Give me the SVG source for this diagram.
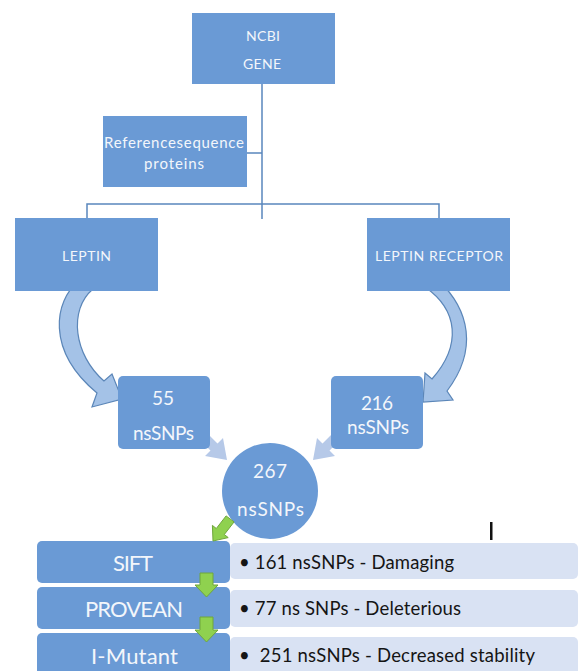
<svg xmlns="http://www.w3.org/2000/svg" width="581" height="671" viewBox="0 0 581 671">
<defs>
<style>
.box{fill:#6a9ad5;}
.rbox{fill:#6a9ad5;}
.det{fill:#d9e2f3;}
.wt{fill:#f3f6fb;font-family:Lato,"Liberation Sans",sans-serif;text-anchor:middle;dominant-baseline:central;}
.dt{fill:#151515;font-family:Lato,"Liberation Sans",sans-serif;dominant-baseline:central;font-size:18.5px;}
.ln{stroke:#5a87bd;stroke-width:1.5;fill:none;}
.curve{fill:#a4c2e7;stroke:#5b86b8;stroke-width:1.2;}
.chev{fill:#b6c9e8;}
.grn{fill:#8fd14f;stroke:#6fa63c;stroke-width:1;}
</style>
</defs>
<rect width="581" height="671" fill="#ffffff"/>
<g id="connectors">
<path class="ln" d="M262,84 V219 M247,153 H262 M87,218 V204 H439 V218"/>
<path class="curve" d="M78,282 C55,300 45,350 97,393 L92,407 L122,399 L112,374 L104,381 C74,355 68,310 93,289 Z"/>
<path class="curve" d="M438,280 C470,310 478,350 447,391 L453,400 L423,402 L425,373 L432,379 C462,345 458,310 425,287 Z"/>
<polygon class="chev" points="203.5,429.5 217.5,443.5 223,438 227,460 205,456 210.5,450.5 196.5,436.5"/>
<polygon class="chev" points="336.5,429.5 322.5,443.5 317,438 313,460 335,456 329.5,450.5 343.5,436.5"/>
</g>
<g id="ncbi">
<rect class="box" x="192" y="13" width="143" height="71"/>
<text class="wt" x="263" y="35" font-size="14" textLength="34">NCBI</text>
<text class="wt" x="262" y="63" font-size="14" textLength="38">GENE</text>
</g>
<g id="refseq">
<rect class="box" x="103" y="116" width="144" height="71"/>
<text class="wt" x="174" y="142" font-size="15" textLength="140">Referencesequence</text>
<text class="wt" x="174" y="163" font-size="15" textLength="60">proteins</text>
</g>
<g id="leptin">
<rect class="box" x="15" y="218" width="143" height="73"/>
<text class="wt" x="86.5" y="255" font-size="14" textLength="49">LEPTIN</text>
</g>
<g id="leptin-receptor">
<rect class="box" x="367" y="218" width="143" height="73"/>
<text class="wt" x="439" y="255" font-size="14" textLength="128">LEPTIN RECEPTOR</text>
</g>
<g id="n55">
<rect class="rbox" x="118" y="376" width="92" height="73" rx="5"/>
<text class="wt" x="163" y="397" font-size="19" textLength="22">55</text>
<text class="wt" x="163.5" y="432" font-size="19" textLength="61">nsSNPs</text>
</g>
<g id="n216">
<rect class="rbox" x="331" y="376" width="92" height="73" rx="5"/>
<text class="wt" x="377" y="402" font-size="19" textLength="32">216</text>
<text class="wt" x="378" y="426" font-size="19" textLength="62">nsSNPs</text>
</g>
<g id="n267">
<circle class="box" cx="270" cy="491" r="48"/>
<text class="wt" x="270" y="470" font-size="19" textLength="34">267</text>
<text class="wt" x="270.5" y="508" font-size="19" textLength="67">nsSNPs</text>
</g>
<g id="sift">
<rect class="rbox" x="37" y="541" width="193" height="42" rx="5"/>
<text class="wt" x="133" y="562" font-size="22" textLength="40">SIFT</text>
</g>
<g id="sift-result">
<rect class="det" x="230" y="543" width="348" height="36" rx="5"/>
<text class="dt" x="239" y="562" textLength="215">• 161 nsSNPs - Damaging</text>
</g>
<g id="provean">
<rect class="rbox" x="37" y="587" width="193" height="42" rx="5"/>
<text class="wt" x="134" y="608" font-size="22" textLength="98">PROVEAN</text>
</g>
<g id="provean-result">
<rect class="det" x="230" y="590" width="348" height="37" rx="5"/>
<text class="dt" x="239" y="608" textLength="222">• 77 ns SNPs - Deleterious</text>
</g>
<g id="imutant">
<rect class="rbox" x="37" y="633" width="193" height="50" rx="5"/>
<text class="wt" x="134.5" y="655" font-size="22" textLength="87">I-Mutant</text>
</g>
<g id="imutant-result">
<rect class="det" x="230" y="637" width="348" height="44" rx="5"/>
<text class="dt" x="239" y="655" textLength="296" xml:space="preserve">•  251 nsSNPs - Decreased stability</text>
</g>
<g id="flow-arrows">
<polygon class="grn" points="234.1,521.9 224.3,534.5 228.2,537.6 213,541 212.4,525.4 216.3,528.5 226.1,515.9"/>
<polygon class="grn" points="200,573 213,573 213,585 218,585 206.5,597 195,585 200,585"/>
<polygon class="grn" points="200,617 213,617 213,630 218,630 206.5,642 195,630 200,630"/>
</g>
<rect x="490" y="522" width="2.5" height="18" fill="#111"/>
</svg>
